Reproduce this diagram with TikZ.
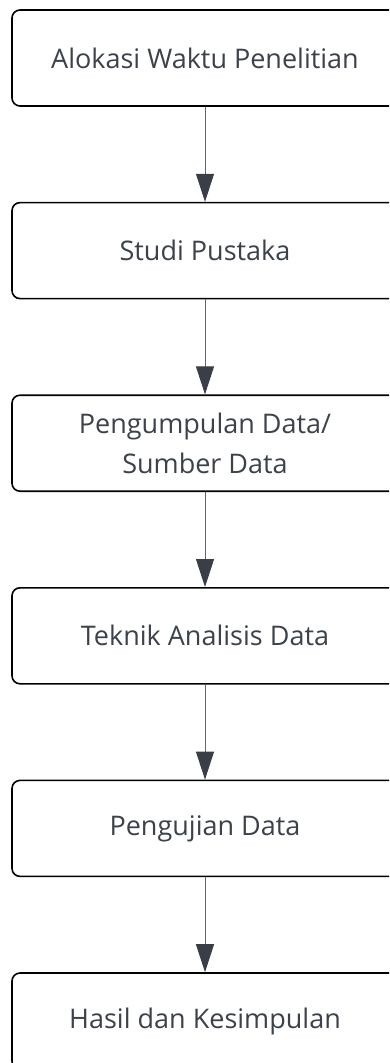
\documentclass[tikz,border=0pt]{standalone}
\usepackage{fontspec}
\setmainfont{Open Sans}
\usetikzlibrary{arrows.meta,positioning}
\definecolor{txtgray}{HTML}{3C424B}
\definecolor{arrgray}{HTML}{5F656E}
\definecolor{tipgray}{HTML}{3A3F47}

\begin{document}
\begin{tikzpicture}[x=1pt, y=-1pt,
	stepbox/.style={draw=black, line width=1.6pt, rounded corners=8pt, minimum width=386pt, minimum height=96pt, inner sep=0pt, align=center, text=txtgray, font=\fontsize{27}{40}\selectfont},
	flow/.style={draw=arrgray, line width=1pt, -{Triangle[length=28pt, width=18pt, fill=tipgray, color=tipgray]}}]
			%%%%% START %%%%%
			
			\useasboundingbox (0, 0) rectangle (389, 1063);
			\clip (0, 0) rectangle (389, 1063);
			
			\node[stepbox] (alokasi) at (205, 58) {Alokasi Waktu Penelitian};
			\node[stepbox, below=95pt of alokasi] (studi) {Studi Pustaka};
			\node[stepbox, below=95pt of studi] (kumpul) {Pengumpulan Data/\\Sumber Data};
			\node[stepbox, below=95pt of kumpul] (teknik) {Teknik Analisis Data};
			\node[stepbox, below=95pt of teknik] (uji) {Pengujian Data};
			\node[stepbox, below=95pt of uji] (hasil) {Hasil dan Kesimpulan};
			
			\draw[flow] (alokasi) -- (studi);
			\draw[flow] (studi) -- (kumpul);
			\draw[flow] (kumpul) -- (teknik);
			\draw[flow] (teknik) -- (uji);
			\draw[flow] (uji) -- (hasil);
			
			%%%%% END %%%%%
		\end{tikzpicture}
\end{document}
